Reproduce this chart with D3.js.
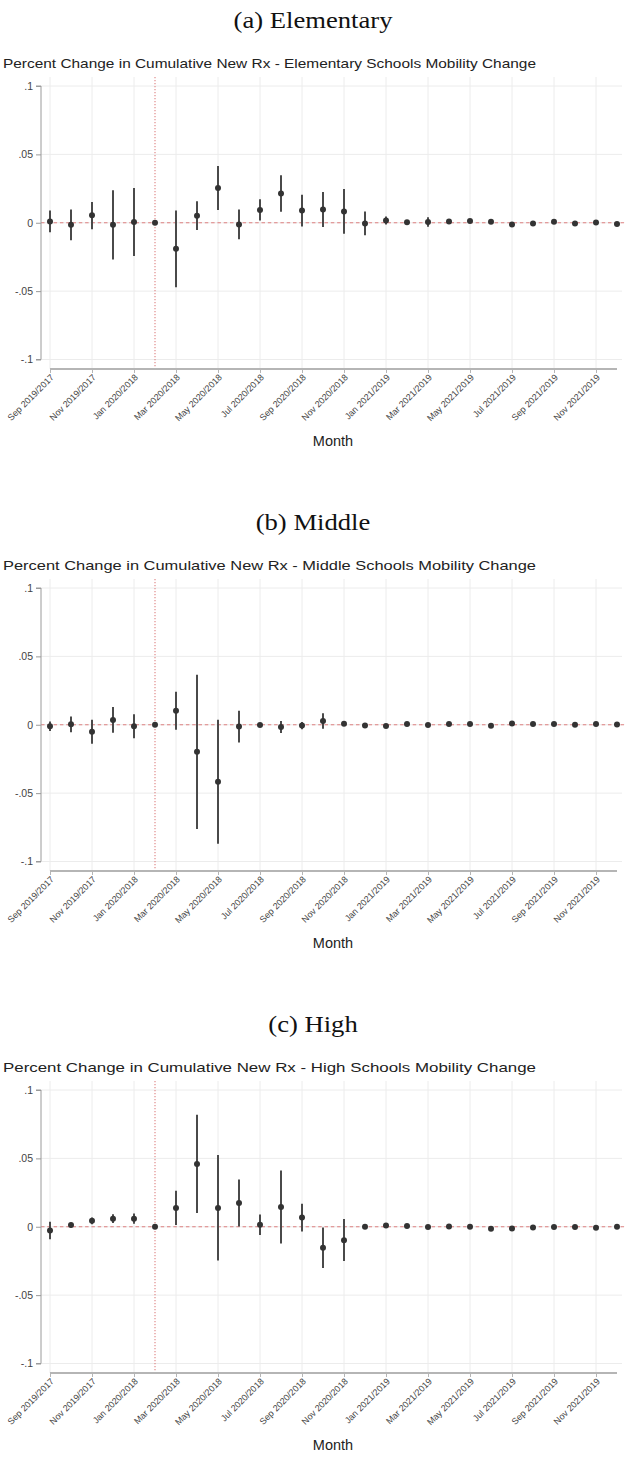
<!DOCTYPE html>
<html>
<head>
<meta charset="utf-8">
<script src="https://cdn.jsdelivr.net/npm/d3@7"></script>
<style>
  body { margin: 0; background: #fff; }
  svg { display: block; }
</style>
</head>
<body>
<svg id="chart" width="626" height="1458"></svg>
<script>
// Event-study months (calendar month / comparison-year month)
const months = [
  "Sep 2019/2017", "Oct 2019/2017", "Nov 2019/2017", "Dec 2019/2017",
  "Jan 2020/2018", "Feb 2020/2018", "Mar 2020/2018", "Apr 2020/2018",
  "May 2020/2018", "Jun 2020/2018", "Jul 2020/2018", "Aug 2020/2018",
  "Sep 2020/2018", "Oct 2020/2018", "Nov 2020/2018", "Dec 2020/2018",
  "Jan 2021/2019", "Feb 2021/2019", "Mar 2021/2019", "Apr 2021/2019",
  "May 2021/2019", "Jun 2021/2019", "Jul 2021/2019", "Aug 2021/2019",
  "Sep 2021/2019", "Oct 2021/2019", "Nov 2021/2019", "Dec 2021/2019"
];
const tickMonths = [
  "Sep 2019/2017", "Nov 2019/2017", "Jan 2020/2018", "Mar 2020/2018",
  "May 2020/2018", "Jul 2020/2018", "Sep 2020/2018", "Nov 2020/2018",
  "Jan 2021/2019", "Mar 2021/2019", "May 2021/2019", "Jul 2021/2019",
  "Sep 2021/2019", "Nov 2021/2019"
];
const refMonth = "Feb 2020/2018";
const yTicks = [0.1, 0.05, 0, -0.05, -0.1];
const yTickLabels = [".1", ".05", "0", "-.05", "-.1"];

// Elementary schools: coefficient and 95% CI bounds
const elemCoef = [0.0010, -0.0015, 0.0055, -0.0015, 0.0005, 0, -0.0190, 0.0052, 0.0254, -0.0012,
  0.0094, 0.0214, 0.0089, 0.0097, 0.0083, -0.0005, 0.0017, 0.0003, 0.0006, 0.0010,
  0.0012, 0.0007, -0.0012, -0.0005, 0.0007, -0.0005, 0.0002, -0.0010];
const elemLo = [-0.0070, -0.0128, -0.0048, -0.0268, -0.0244, 0, -0.0471, -0.0053, 0.0094, -0.0121,
  0.0017, 0.0080, -0.0027, -0.0031, -0.0080, -0.0092, -0.0012, -0.0008, -0.0029, 0.0000,
  0.0003, -0.0003, -0.0022, -0.0014, -0.0002, -0.0013, -0.0006, -0.0018];
const elemHi = [0.0090, 0.0097, 0.0152, 0.0237, 0.0254, 0, 0.0089, 0.0157, 0.0415, 0.0097,
  0.0171, 0.0348, 0.0205, 0.0225, 0.0246, 0.0082, 0.0046, 0.0014, 0.0041, 0.0020,
  0.0021, 0.0017, -0.0002, 0.0004, 0.0016, 0.0003, 0.0010, -0.0002];

// Middle schools
const midCoef = [-0.0011, 0.0004, -0.0051, 0.0035, -0.0011, 0, 0.0102, -0.0198, -0.0417, -0.0013,
  -0.0001, -0.0017, -0.0006, 0.0028, 0.0007, -0.0005, -0.0010, 0.0005, -0.0002, 0.0005,
  0.0005, -0.0007, 0.0010, 0.0005, 0.0005, 0.0000, 0.0005, 0.0002];
const midLo = [-0.0046, -0.0054, -0.0139, -0.0059, -0.0098, 0, -0.0037, -0.0763, -0.0871, -0.0129,
  -0.0008, -0.0061, -0.0032, -0.0029, -0.0003, -0.0013, -0.0022, -0.0005, -0.0010, -0.0004,
  -0.0004, -0.0015, 0.0002, -0.0003, -0.0003, -0.0008, -0.0003, -0.0006];
const midHi = [0.0024, 0.0061, 0.0037, 0.0129, 0.0076, 0, 0.0241, 0.0366, 0.0037, 0.0102,
  0.0006, 0.0027, 0.0020, 0.0085, 0.0017, 0.0003, 0.0002, 0.0015, 0.0006, 0.0014,
  0.0014, 0.0001, 0.0018, 0.0013, 0.0013, 0.0008, 0.0013, 0.0010];

// High schools
const highCoef = [-0.0028, 0.0012, 0.0043, 0.0059, 0.0059, 0, 0.0138, 0.0459, 0.0138, 0.0173,
  0.0014, 0.0144, 0.0067, -0.0154, -0.0098, 0.0000, 0.0010, 0.0005, -0.0002, 0.0002,
  0.0000, -0.0014, -0.0012, -0.0005, -0.0002, -0.0002, -0.0007, 0.0000];
const highLo = [-0.0092, -0.0005, 0.0019, 0.0027, 0.0022, 0, 0.0012, 0.0101, -0.0246, 0.0002,
  -0.0060, -0.0123, -0.0034, -0.0302, -0.0251, -0.0008, 0.0000, -0.0004, -0.0010, -0.0006,
  -0.0008, -0.0022, -0.0020, -0.0013, -0.0010, -0.0010, -0.0015, -0.0008];
const highHi = [0.0036, 0.0029, 0.0068, 0.0092, 0.0097, 0, 0.0263, 0.0819, 0.0524, 0.0345,
  0.0089, 0.0411, 0.0169, -0.0005, 0.0056, 0.0008, 0.0020, 0.0014, 0.0006, 0.0010,
  0.0008, -0.0006, -0.0004, 0.0003, 0.0006, 0.0006, 0.0001, 0.0008];

const panels = [
  { sub: "(a) Elementary", title: "Percent Change in Cumulative New Rx - Elementary Schools Mobility Change",
    coef: elemCoef, lo: elemLo, hi: elemHi },
  { sub: "(b) Middle", title: "Percent Change in Cumulative New Rx - Middle Schools Mobility Change",
    coef: midCoef, lo: midLo, hi: midHi },
  { sub: "(c) High", title: "Percent Change in Cumulative New Rx - High Schools Mobility Change",
    coef: highCoef, lo: highLo, hi: highHi }
];

const svg = d3.select("#chart");
const panelStep = 502;
const sans = "'Liberation Sans', Arial, Helvetica, sans-serif";
const serif = "'Liberation Serif', 'Times New Roman', serif";

const plotLeft = 41, plotRight = 622, plotTop = 77, plotBottom = 369;
const x = d3.scalePoint().domain(months).range([50, 617]);
const y = d3.scaleLinear().domain([-0.1, 0.1]).range([359.5, 86]);

const gridColor = "#ececec";
const refColor = "#dd8080";

panels.forEach((p, i) => {
  const g = svg.append("g").attr("transform", `translate(0,${i * panelStep})`);

  // panel caption (serif, slightly widened like Computer Modern)
  g.append("text")
    .attr("transform", "translate(313,28) scale(1.11,1)")
    .attr("text-anchor", "middle")
    .style("font-family", serif).style("font-size", "24px").style("fill", "#111")
    .text(p.sub);

  // chart title
  g.append("text")
    .attr("x", 3).attr("y", 68)
    .style("font-family", sans).style("font-size", "13.6px").style("fill", "#222")
    .attr("textLength", 533).attr("lengthAdjust", "spacingAndGlyphs")
    .text(p.title);

  // grid
  g.append("g").selectAll("line").data(tickMonths).join("line")
    .attr("x1", d => x(d)).attr("x2", d => x(d))
    .attr("y1", plotTop).attr("y2", plotBottom)
    .attr("stroke", gridColor).attr("stroke-width", 1);
  g.append("g").selectAll("line").data(yTicks).join("line")
    .attr("x1", plotLeft).attr("x2", plotRight)
    .attr("y1", d => y(d)).attr("y2", d => y(d))
    .attr("stroke", gridColor).attr("stroke-width", 1);

  // reference lines: zero and the Feb 2020 base month
  g.append("line")
    .attr("x1", plotLeft).attr("x2", 626)
    .attr("y1", y(0)).attr("y2", y(0))
    .attr("stroke", refColor).attr("stroke-width", 1.1)
    .attr("stroke-dasharray", "3.5,2.8");
  g.append("line")
    .attr("x1", x(refMonth)).attr("x2", x(refMonth))
    .attr("y1", plotTop).attr("y2", plotBottom)
    .attr("stroke", refColor).attr("stroke-width", 1.1)
    .attr("stroke-dasharray", "1.2,1.8");

  // y axis
  const yAxis = d3.axisLeft(y).tickValues(yTicks)
    .tickFormat((d, k) => yTickLabels[k]).tickSize(5).tickPadding(3);
  const ya = g.append("g").attr("transform", `translate(${plotLeft},0)`).call(yAxis);
  ya.select(".domain").attr("stroke", "#9a9a9a").attr("d", `M-5,${y(0.1)}H0V${y(-0.1)}H-5`);
  ya.selectAll(".tick line").attr("stroke", "#9a9a9a");
  ya.selectAll(".tick text").style("font-family", sans).style("font-size", "10.5px").style("fill", "#444");

  // x axis
  const xAxis = d3.axisBottom(x).tickValues(tickMonths).tickSize(4).tickSizeOuter(0);
  const xa = g.append("g").attr("transform", `translate(0,${plotBottom})`).call(xAxis);
  xa.select(".domain").attr("stroke", "#b5b5b5").attr("stroke-width", 2)
    .attr("d", `M${x(months[0])},0H${x(months[months.length - 1])}`);
  xa.selectAll(".tick line").attr("stroke", "#b5b5b5");
  xa.selectAll(".tick text")
    .attr("y", 0).attr("dy", 0)
    .attr("transform", "translate(4,9) rotate(-45)")
    .attr("text-anchor", "end")
    .style("font-family", sans).style("font-size", "9px").style("fill", "#444");

  // x axis title
  g.append("text")
    .attr("x", 333).attr("y", 446)
    .attr("text-anchor", "middle")
    .style("font-family", sans).style("font-size", "14.5px").style("fill", "#222")
    .text("Month");

  // confidence intervals and point estimates
  const rows = months.map((m, k) => ({ m, c: p.coef[k], lo: p.lo[k], hi: p.hi[k] }));
  g.append("g").selectAll("line").data(rows.filter(r => r.hi > r.lo)).join("line")
    .attr("x1", r => x(r.m)).attr("x2", r => x(r.m))
    .attr("y1", r => y(r.lo)).attr("y2", r => y(r.hi))
    .attr("stroke", "#4a4a4a").attr("stroke-width", 2);
  g.append("g").selectAll("circle").data(rows).join("circle")
    .attr("cx", r => x(r.m)).attr("cy", r => y(r.c))
    .attr("r", 3).attr("fill", "#333");
});
</script>
</body>
</html>
